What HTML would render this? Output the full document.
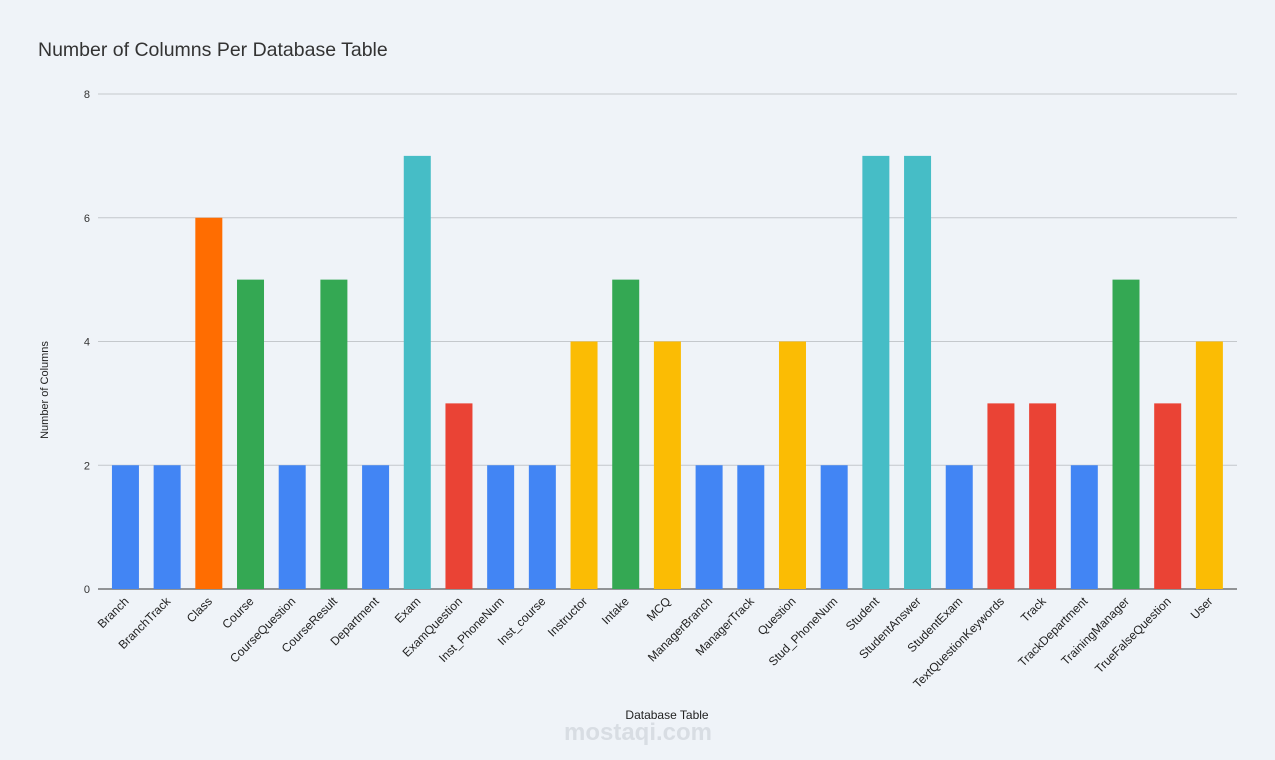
<!DOCTYPE html>
<html><head><meta charset="utf-8"><style>
body{margin:0;background:#eff3f8;}
svg{display:block;font-family:"Liberation Sans",Arial,sans-serif;}
</style></head><body>
<svg id="chart" width="1275" height="760" viewBox="0 0 1275 760">
<rect width="1275" height="760" fill="#eff3f8"/>
<text x="38" y="56" font-size="19.5" fill="#333">Number of Columns Per Database Table</text>
<g id="grid"></g><g id="bars"></g><g id="xlabels"></g>
<text transform="translate(48,390) rotate(-90)" text-anchor="middle" font-size="11" fill="#222">Number of Columns</text>
<text x="667" y="719" text-anchor="middle" font-size="12" fill="#222">Database Table</text>
<text x="638" y="740" text-anchor="middle" font-size="24" font-weight="bold" fill="#d8dde3">mostaqi.com</text>
</svg>
<script>
const categories=["Branch","BranchTrack","Class","Course","CourseQuestion","CourseResult","Department","Exam","ExamQuestion","Inst_PhoneNum","Inst_course","Instructor","Intake","MCQ","ManagerBranch","ManagerTrack","Question","Stud_PhoneNum","Student","StudentAnswer","StudentExam","TextQuestionKeywords","Track","TrackDepartment","TrainingManager","TrueFalseQuestion","User"];
const values=[2,2,6,5,2,5,2,7,3,2,2,4,5,4,2,2,4,2,7,7,2,3,3,2,5,3,4];
const yTicks=[0,2,4,6,8];
const colorByValue={2:"#4285f4",3:"#ea4335",4:"#fbbc04",5:"#34a853",6:"#ff6d01",7:"#46bdc6"};
const NS="http://www.w3.org/2000/svg";
const x0=104.6,band=41.69,y0=589,y1=94,ymax=8;
const yScale=v=>y0-(v/ymax)*(y0-y1);
const xCenter=i=>x0+band*(i+0.5);
const grid=document.getElementById('grid');
yTicks.forEach(t=>{
 const l=document.createElementNS(NS,'line');
 
 
 l.setAttribute('x1',98);l.setAttribute('x2',1237);
 l.setAttribute('y1',yScale(t));l.setAttribute('y2',yScale(t));
 l.setAttribute('stroke',t===0?'#333':'#c4c8cc');l.setAttribute('stroke-width',1);
 grid.appendChild(l);
 const tx=document.createElementNS(NS,'text');
 
 
 tx.setAttribute('x',90);tx.setAttribute('y',yScale(t)+4);
 tx.setAttribute('text-anchor','end');tx.setAttribute('font-size','11');tx.setAttribute('fill','#333');
 tx.textContent=t;grid.appendChild(tx);
});
const bars=document.getElementById('bars'),xl=document.getElementById('xlabels');
categories.forEach((c,i)=>{
 const r=document.createElementNS(NS,'rect');
 
 
 const w=27;
 r.setAttribute('x',xCenter(i)-w/2);r.setAttribute('width',w);
 r.setAttribute('y',yScale(values[i]));r.setAttribute('height',y0-yScale(values[i]));
 r.setAttribute('fill',colorByValue[values[i]]||'#4285f4');
 bars.appendChild(r);
 const t=document.createElementNS(NS,'text');
 
 
 const cx=xCenter(i)+4,cy=602;
 t.setAttribute('transform','translate('+cx+','+cy+') rotate(-45)');
 t.setAttribute('text-anchor','end');t.setAttribute('font-size','12');t.setAttribute('fill','#222');
 t.textContent=c;xl.appendChild(t);
});
</script>
</body></html>
